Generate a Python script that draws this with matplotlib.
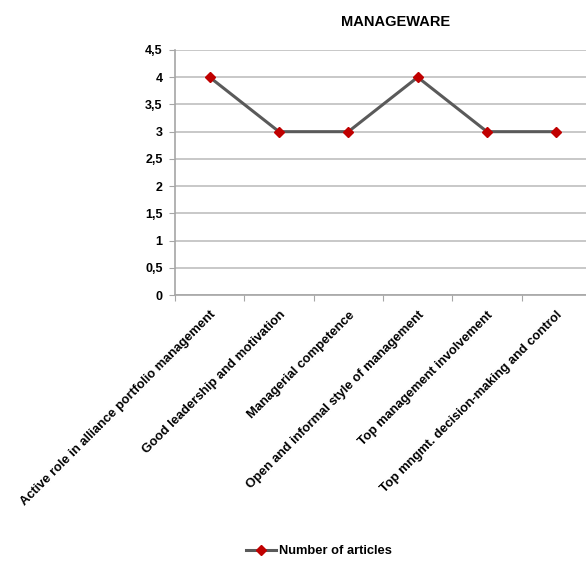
import matplotlib
matplotlib.use("Agg")
import matplotlib.pyplot as plt
import numpy as np

plt.rcParams['font.family'] = ['Liberation Sans', 'DejaVu Sans']
plt.rcParams['font.weight'] = 'bold'

categories = [
    "Active role in alliance portfolio management",
    "Good leadership and motivation",
    "Managerial competence",
    "Open and informal style of management",
    "Top management involvement",
    "Top mngmt. decision-making and control",
]
articles = [4, 3, 3, 4, 3, 3]
yticks = [0, 0.5, 1, 1.5, 2, 2.5, 3, 3.5, 4, 4.5]
ytick_labels = ["0", "0,5", "1", "1,5", "2", "2,5", "3", "3,5", "4", "4,5"]

fig = plt.figure(figsize=(5.86, 5.61), dpi=100)
ax = fig.add_axes([175 / 586, 1 - 295 / 561, 416 / 586, 245 / 561])

x = np.arange(len(categories))
ax.plot(x, articles, color='#5a5a5a', lw=2.2, marker='D', markersize=5.5,
        markerfacecolor='#c00000', markeredgecolor='#c00000',
        label='Number of articles', zorder=3)

ax.set_xlim(-0.5, len(categories) - 0.5)
ax.set_ylim(0, 4.5)
ax.set_yticks(yticks)
ax.set_yticklabels(ytick_labels, fontsize=9, fontweight='bold')
ax.yaxis.grid(True, color='#bfbfbf', lw=1.2)
ax.set_axisbelow(True)

# category ticks sit on bin boundaries, labels under bin centres
ax.set_xticks(np.arange(len(categories) + 1) - 0.5)
ax.set_xticklabels([])
ax.set_xticks(x, minor=True)
ax.set_xticklabels(categories, minor=True, rotation=45, ha='right', va='top',
                   rotation_mode='anchor', fontsize=9.3, fontweight='bold')
ax.tick_params(axis='x', which='minor', length=0, pad=10)
ax.tick_params(axis='x', which='major', length=4, color='#a6a6a6')
ax.tick_params(axis='y', length=4, color='#a6a6a6', pad=5)

for side in ['top', 'right']:
    ax.spines[side].set_visible(False)
for side in ['left', 'bottom']:
    ax.spines[side].set_color('#a6a6a6')
    ax.spines[side].set_linewidth(1.2)

fig.text(396 / 586, 1 - 22 / 561, "MANAGEWARE", ha='center', va='center',
         fontsize=10.5, fontweight='bold')

fig.legend(loc='center', bbox_to_anchor=(319 / 586, 1 - 551 / 561), frameon=False,
           fontsize=9.3, handlelength=2.3, handletextpad=0.2)

fig.savefig("out.png", dpi=100)
